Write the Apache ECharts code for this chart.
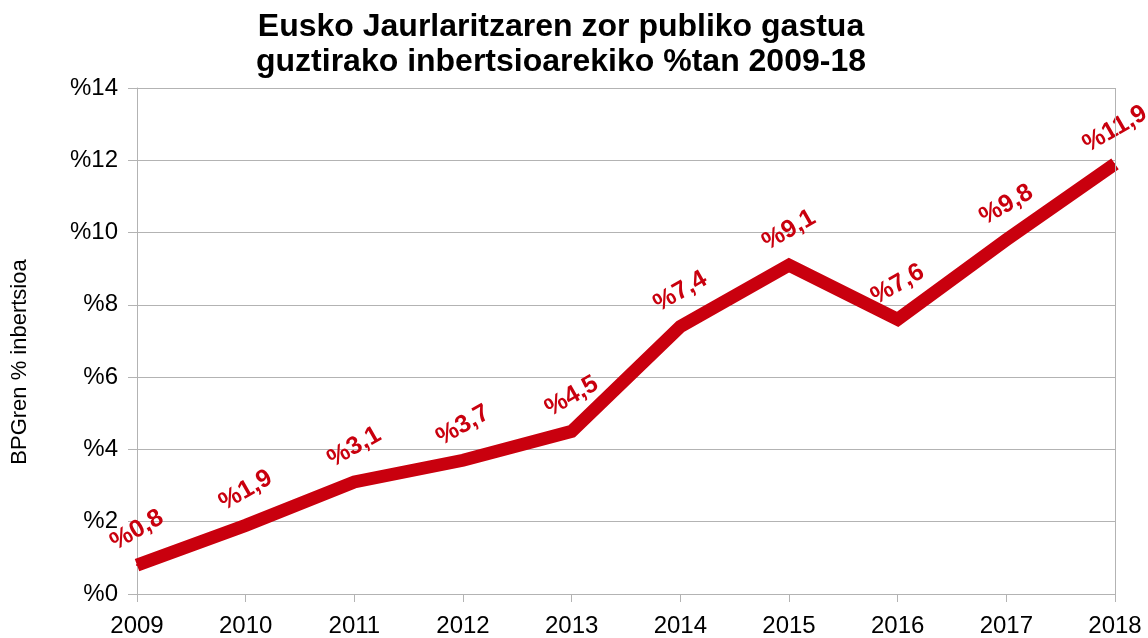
<!DOCTYPE html>
<html>
<head>
<meta charset="utf-8">
<script src="https://cdn.jsdelivr.net/npm/echarts@6/dist/echarts.min.js"></script>
<style>
  html, body { margin: 0; padding: 0; background: #fff; }
  #main { width: 1148px; height: 638px; }
</style>
</head>
<body>
<div id="main"></div>
<script>
    // urteak eta balioak
    const years = ['2009', '2010', '2011', '2012', '2013', '2014', '2015', '2016', '2017', '2018'];
    const values = [0.8, 1.9, 3.1, 3.7, 4.5, 7.4, 9.1, 7.6, 9.8, 11.9];
    const yTicks = [0, 2, 4, 6, 8, 10, 12, 14];

    const red = '#c9000e';
    const gridColor = '#b3b3b3';

    var chartDom = document.getElementById('main');
    var myChart = echarts.init(chartDom);
    var option;

    option = {
        animation: false,
        title: {
            text: 'Eusko Jaurlaritzaren zor publiko gastua\nguztirako inbertsioarekiko %tan 2009-18',
            left: 556,
            textAlign: 'center',
            top: 5,
            textStyle: {
                fontFamily: 'Liberation Sans',
                fontSize: 32,
                fontWeight: 'bold',
                lineHeight: 35,
                color: '#000'
            }
        },
        grid: {
            left: 137,
            right: 33,
            top: 88,
            bottom: 44
        },
        graphic: [
            {
                type: 'text',
                x: 20,
                y: 362,
                rotation: Math.PI / 2,
                style: {
                    text: 'BPGren % inbertsioa',
                    fill: '#000',
                    font: '22px "Liberation Sans"',
                    textAlign: 'center',
                    textVerticalAlign: 'middle'
                }
            }
        ],
        xAxis: {
            type: 'category',
            data: years,
            boundaryGap: false,
            axisLine: { lineStyle: { color: gridColor, width: 1 } },
            axisTick: { show: true, length: 8, lineStyle: { color: gridColor } },
            axisLabel: {
                color: '#000',
                fontFamily: 'Liberation Sans',
                fontSize: 24,
                margin: 20
            },
            splitLine: { show: false }
        },
        yAxis: {
            type: 'value',
            position: 'left',
            min: yTicks[0],
            max: yTicks[yTicks.length - 1],
            interval: 2,
            axisLine: { show: true, onZero: false, lineStyle: { color: gridColor, width: 1 } },
            axisTick: { show: true, inside: false, length: 9, lineStyle: { color: gridColor, width: 1 } },
            axisLabel: {
                color: '#000',
                fontFamily: 'Liberation Sans',
                fontSize: 24,
                margin: 19,
                formatter: function (v) { return '%' + v; }
            },
            splitLine: { show: true, lineStyle: { color: gridColor, width: 1 } }
        },
        series: [
            {
                type: 'line',
                data: values,
                symbol: 'circle',
                symbolSize: 2,
                showSymbol: true,
                lineStyle: { color: red, width: 13, cap: 'butt', join: 'miter' },
                itemStyle: { color: red },
                label: {
                    show: true,
                    position: 'inside',
                    // offset is turned with the text, so this puts the centre ~35px above the point
                    offset: [17.5, -30.3],
                    rotate: 30,
                    color: red,
                    fontFamily: 'Liberation Sans',
                    fontSize: 25,
                    fontWeight: 'bold',
                    formatter: function (p) { return '%' + String(p.value).replace('.', ','); }
                },
                z: 3
            },
            {
                // eskuineko ertza
                type: 'line',
                data: [],
                markLine: {
                    silent: true,
                    symbol: 'none',
                    label: { show: false },
                    lineStyle: { color: gridColor, width: 1, type: 'solid' },
                    data: [{ xAxis: years[years.length - 1] }]
                },
                z: 1
            }
        ]
    };

    myChart.setOption(option);
</script>
</body>
</html>
